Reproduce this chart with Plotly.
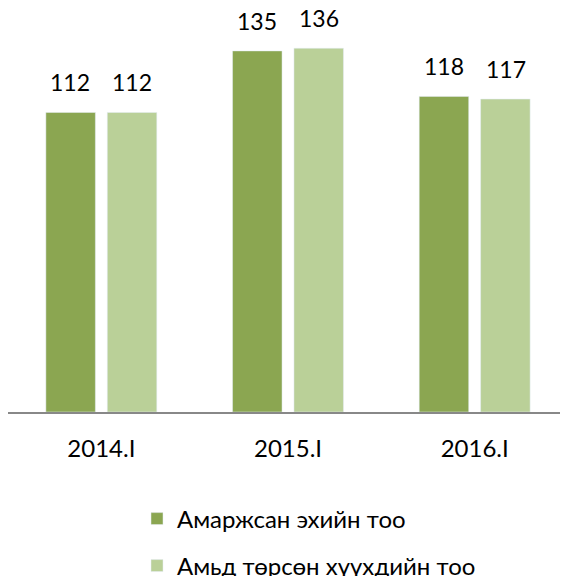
import plotly.graph_objects as go

categories = ["2014.I", "2015.I", "2016.I"]
mothers = [112, 135, 118]
births = [112, 136, 117]
series_names = ["Амаржсан эхийн тоо", "Амьд төрсөн хүүхдийн тоо"]

DARK = "#8BA651"
LIGHT = "#BAD098"
FONT = "Lato, 'Open Sans', sans-serif"

# page body has an 8px margin, so the figure is sized to fit the window
W, H = 560, 568

fig = go.Figure()
fig.add_trace(go.Bar(x=categories, y=mothers, name=series_names[0], marker_color=DARK,
                     legend="legend", showlegend=True))
fig.add_trace(go.Bar(x=categories, y=births, name=series_names[1], marker_color=LIGHT,
                     legend="legend2", showlegend=True))

for vals, shift in ((mothers, -31), (births, 31)):
    for c, v in zip(categories, vals):
        fig.add_annotation(x=c, y=v, text=str(v), showarrow=False, xshift=shift,
                           yshift=14, yanchor="bottom",
                           font=dict(size=23, color="#000000", family=FONT))

fig.update_layout(
    width=W, height=H, showlegend=True,
    margin=dict(l=0, r=0, t=2, b=164, autoexpand=False),
    paper_bgcolor="white", plot_bgcolor="white",
    barmode="group", bargap=0.342, bargroupgap=0.194,
    font=dict(family=FONT, size=24, color="#000000"),
    xaxis=dict(showline=True, linecolor="#888888", linewidth=1.5,
               ticks="outside", ticklen=14, tickcolor="rgba(0,0,0,0)",
               tickfont=dict(size=24), showgrid=False, fixedrange=True),
    yaxis=dict(range=[0, 150.3], visible=False, showgrid=False),
    legend=dict(xref="container", yref="container", x=129 / W, y=1 - 511 / H,
                xanchor="left", yanchor="middle",
                font=dict(size=24), bgcolor="rgba(0,0,0,0)"),
    legend2=dict(xref="container", yref="container", x=129 / W, y=1 - 558 / H,
                 xanchor="left", yanchor="middle",
                 font=dict(size=24), bgcolor="rgba(0,0,0,0)"),
)

fig.write_html("out.html")
